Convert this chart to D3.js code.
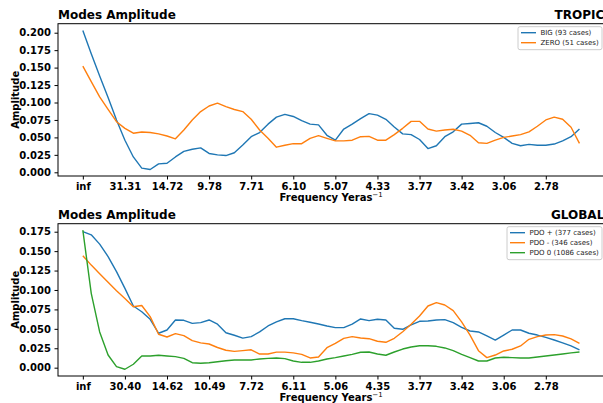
<!DOCTYPE html>
<html>
<head>
<meta charset="utf-8">
<script src="https://cdn.jsdelivr.net/npm/d3@7/dist/d3.min.js"></script>
<style>
  html, body { margin: 0; padding: 0; background: #fff; }
  svg { display: block; font-family: "DejaVu Sans", sans-serif; }
</style>
</head>
<body>
<svg id="chart" width="603" height="403"></svg>
<script>
// Period labels (years) shown under every 5th frequency bin
const tropicTickLabels = ["inf", "31.31", "14.72", "9.78", "7.71", "6.10", "5.07", "4.33", "3.77", "3.42", "3.06", "2.78"];
const globalTickLabels = ["inf", "30.40", "14.62", "10.49", "7.72", "6.11", "5.06", "4.35", "3.77", "3.42", "3.06", "2.78"];

// Tropical composites: mode amplitude per frequency bin
const bigAmp = [0.203, 0.170, 0.138, 0.107, 0.075, 0.046, 0.022, 0.006, 0.004, 0.012,
  0.013, 0.022, 0.030, 0.033, 0.035, 0.027, 0.025, 0.024, 0.028, 0.039,
  0.051, 0.057, 0.069, 0.079, 0.083, 0.080, 0.074, 0.069, 0.068, 0.053,
  0.046, 0.062, 0.069, 0.077, 0.084, 0.082, 0.076, 0.065, 0.055, 0.054,
  0.047, 0.034, 0.038, 0.051, 0.058, 0.069, 0.070, 0.071, 0.066, 0.057,
  0.050, 0.0415, 0.038, 0.040, 0.0387, 0.0387, 0.0405, 0.045, 0.051, 0.062];
const zeroAmp = [0.152, 0.130, 0.108, 0.090, 0.0725, 0.063, 0.056, 0.0577, 0.057, 0.055,
  0.052, 0.048, 0.0606, 0.075, 0.087, 0.095, 0.099, 0.094, 0.090, 0.087,
  0.076, 0.0606, 0.0487, 0.036, 0.0387, 0.041, 0.041, 0.0487, 0.0525, 0.0487,
  0.045, 0.045, 0.046, 0.051, 0.0515, 0.046, 0.046, 0.054, 0.063, 0.073,
  0.073, 0.062, 0.059, 0.0606, 0.0616, 0.059, 0.053, 0.0424, 0.0415, 0.046,
  0.050, 0.052, 0.054, 0.058, 0.066, 0.075, 0.079, 0.076, 0.0645, 0.0415];

// Global composites by PDO phase
const pdoPlus = [0.175, 0.171, 0.159, 0.143, 0.1236, 0.102, 0.0794, 0.072, 0.0623, 0.0443,
  0.0485, 0.0614, 0.061, 0.057, 0.058, 0.0614, 0.056, 0.045, 0.0417, 0.038,
  0.040, 0.046, 0.0537, 0.059, 0.063, 0.063, 0.0605, 0.0584, 0.0562, 0.0537,
  0.0515, 0.0515, 0.056, 0.0627, 0.0605, 0.0623, 0.0614, 0.0507, 0.0494, 0.055,
  0.0597, 0.060, 0.0614, 0.0618, 0.058, 0.052, 0.0472, 0.046, 0.0408, 0.0356,
  0.042, 0.0485, 0.0485, 0.0443, 0.042, 0.039, 0.0356, 0.032, 0.028, 0.0228];
const pdoMinus = [0.144, 0.132, 0.121, 0.110, 0.099, 0.089, 0.0785, 0.080, 0.0657, 0.043,
  0.0395, 0.0438, 0.0412, 0.0348, 0.032, 0.0305, 0.026, 0.0224, 0.021, 0.0219,
  0.023, 0.0176, 0.0176, 0.020, 0.020, 0.019, 0.0172, 0.0125, 0.0138, 0.0257,
  0.0314, 0.0378, 0.040, 0.0382, 0.0373, 0.034, 0.0327, 0.0378, 0.0463, 0.0558,
  0.0665, 0.0794, 0.0837, 0.0807, 0.0734, 0.059, 0.042, 0.0219, 0.0129, 0.0163,
  0.0215, 0.0237, 0.028, 0.0365, 0.040, 0.042, 0.0425, 0.0408, 0.037, 0.0314];
const pdoZero = [0.177, 0.0957, 0.046, 0.0163, 0.0013, -0.002, 0.0044, 0.015, 0.015, 0.016,
  0.015, 0.0142, 0.012, 0.0064, 0.0057, 0.0064, 0.0077, 0.009, 0.0099, 0.0099,
  0.0099, 0.0112, 0.012, 0.0125, 0.0116, 0.0086, 0.0069, 0.0069, 0.0086, 0.0112,
  0.0129, 0.015, 0.0172, 0.0198, 0.0202, 0.0176, 0.016, 0.0202, 0.024, 0.0266,
  0.0283, 0.0283, 0.0275, 0.0254, 0.0219, 0.0172, 0.0129, 0.0086, 0.0086, 0.0125,
  0.0134, 0.0129, 0.0125, 0.0125, 0.0138, 0.015, 0.0163, 0.0176, 0.019, 0.0202];

const tropicTicksY = [0, 0.025, 0.05, 0.075, 0.1, 0.125, 0.15, 0.175, 0.2];
const globalTicksY = [0, 0.025, 0.05, 0.075, 0.1, 0.125, 0.15, 0.175];

const C_BLUE = "#1f77b4", C_ORANGE = "#ff7f0e", C_GREEN = "#2ca02c";

const svg = d3.select("#chart");

function panel(opts) {
  const { top, bottom, left, right, yDomain, yTicks, tickLabels, series, region, xLabel, legendWidth } = opts;
  const n = series[0].values.length;
  const x = d3.scaleLinear().domain([-2.95, n + 1.95]).range([left, right]);
  const y = d3.scaleLinear().domain(yDomain).range([bottom, top]);
  const g = svg.append("g");

  // data lines
  const line = d3.line().x((d, i) => x(i)).y(d => y(d));
  series.forEach(s => {
    g.append("path").datum(s.values)
      .attr("d", line).attr("fill", "none")
      .attr("stroke", s.color).attr("stroke-width", 1.4)
      .attr("stroke-linejoin", "round");
  });

  // axes
  const xTickIdx = tickLabels.map((_, i) => i * 5);
  const xAxis = d3.axisBottom(x).tickValues(xTickIdx)
    .tickFormat((d, i) => tickLabels[i]).tickSize(3.5).tickPadding(3);
  const yAxis = d3.axisLeft(y).tickValues(yTicks)
    .tickFormat(d3.format(".3f")).tickSize(3.5).tickPadding(3.5);

  const gx = g.append("g").attr("transform", `translate(0,${bottom})`).call(xAxis);
  const gy = g.append("g").attr("transform", `translate(${left},0)`).call(yAxis);
  [gx, gy].forEach(a => {
    a.select(".domain").remove();
    a.selectAll("text").attr("font-family", "DejaVu Sans").attr("font-weight", "bold")
      .attr("font-size", 10).attr("fill", "#000");
    a.selectAll("line").attr("stroke", "#000").attr("stroke-width", 1);
  });

  // spines
  g.append("rect").attr("x", left).attr("y", top)
    .attr("width", right - left).attr("height", bottom - top)
    .attr("fill", "none").attr("stroke", "#000").attr("stroke-width", 1);

  // titles
  g.append("text").attr("x", left).attr("y", top - 5)
    .attr("font-weight", "bold").attr("font-size", 12).text("Modes Amplitude");
  g.append("text").attr("x", right).attr("y", top - 5).attr("text-anchor", "end")
    .attr("font-weight", "bold").attr("font-size", 12).text(region);

  // axis labels
  g.append("text")
    .attr("transform", `translate(18.5,${(top + bottom) / 2}) rotate(-90)`)
    .attr("text-anchor", "middle").attr("font-weight", "bold").attr("font-size", 10)
    .text("Amplitude");
  const xl = g.append("text").attr("x", (left + right) / 2).attr("y", bottom + 25)
    .attr("text-anchor", "middle").attr("font-weight", "bold").attr("font-size", 10);
  xl.append("tspan").text(xLabel);
  xl.append("tspan").attr("dy", -4).attr("font-size", 7).attr("font-weight", "normal").text("\u22121");

  // legend
  const rowH = 10;
  const lx = 603 - legendWidth - 1, ly = top + 3;
  const lg = g.append("g");
  lg.append("rect").attr("x", lx).attr("y", ly)
    .attr("width", legendWidth).attr("height", series.length * rowH + 3)
    .attr("rx", 2).attr("fill", "#fff").attr("fill-opacity", 0.8)
    .attr("stroke", "#ccc").attr("stroke-width", 1);
  series.forEach((s, i) => {
    const cy = ly + 6 + i * rowH;
    lg.append("line").attr("x1", lx + 3).attr("x2", lx + 18)
      .attr("y1", cy).attr("y2", cy).attr("stroke", s.color).attr("stroke-width", 1.4);
    lg.append("text").attr("x", lx + 22.5).attr("y", cy + 2.5)
      .attr("font-size", 7).attr("fill", "#222").text(s.name);
  });
}

panel({
  top: 23.7, bottom: 176, left: 58, right: 604.3,
  yDomain: [-0.0053, 0.2129], yTicks: tropicTicksY, tickLabels: tropicTickLabels,
  region: "TROPIC", xLabel: "Frequency Yeras", legendWidth: 84,
  series: [
    { name: "BIG (93 cases)", values: bigAmp, color: C_BLUE },
    { name: "ZERO (51 cases)", values: zeroAmp, color: C_ORANGE }
  ]
});

panel({
  top: 223.7, bottom: 376, left: 58, right: 604.3,
  yDomain: [-0.0107, 0.1853], yTicks: globalTicksY, tickLabels: globalTickLabels,
  region: "GLOBAL", xLabel: "Frequency Years", legendWidth: 95,
  series: [
    { name: "PDO + (377 cases)", values: pdoPlus, color: C_BLUE },
    { name: "PDO - (346 cases)", values: pdoMinus, color: C_ORANGE },
    { name: "PDO 0 (1086 cases)", values: pdoZero, color: C_GREEN }
  ]
});
</script>
</body>
</html>
